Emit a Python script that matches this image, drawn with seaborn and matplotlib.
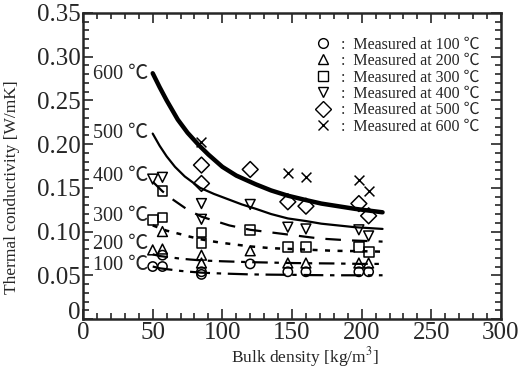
import numpy as np
import pandas as pd
import seaborn as sns
import matplotlib.pyplot as plt
from matplotlib.ticker import MultipleLocator
from matplotlib.lines import Line2D

# fitted curves
curve_x = {
    600: [50, 55, 60, 68, 75, 83, 90, 100, 110, 124, 135, 147, 160, 171, 183, 195, 205, 215],
    500: [50, 55, 60, 66, 73, 84, 94, 104, 114, 124, 135, 147, 160, 171, 183, 195, 205, 215],
    400: [50, 57, 65, 75, 85, 95, 105, 120, 135, 150, 170, 190, 215],
    300: [50, 55, 60, 65, 70, 77, 85, 92, 100, 110, 120, 135, 150, 165, 180, 200, 215],
    200: [50, 55, 60, 65, 70, 77, 85, 92, 100, 110, 120, 135, 150, 165, 180, 200, 215],
    100: [50, 55, 60, 65, 70, 77, 85, 92, 100, 110, 120, 135, 150, 165, 180, 200, 215],
}
curve_y = {
    600: [0.281, 0.265, 0.250, 0.228, 0.213, 0.199, 0.188, 0.174, 0.164, 0.154, 0.147,
          0.141, 0.136, 0.132, 0.129, 0.126, 0.124, 0.122],
    500: [0.212, 0.198, 0.186, 0.174, 0.163, 0.150, 0.143, 0.137, 0.131, 0.126, 0.120,
          0.115, 0.112, 0.109, 0.107, 0.105, 0.104, 0.103],
    400: [0.157, 0.146, 0.136, 0.125, 0.117, 0.112, 0.107, 0.102, 0.099, 0.096, 0.092,
          0.090, 0.0885],
    300: [0.107, 0.104, 0.101, 0.099, 0.097, 0.094, 0.091, 0.089, 0.087, 0.085, 0.083,
          0.081, 0.080, 0.079, 0.078, 0.0775, 0.077],
    200: [0.074, 0.072, 0.071, 0.070, 0.069, 0.068, 0.067, 0.0665, 0.066, 0.0655, 0.065,
          0.0645, 0.064, 0.0637, 0.0635, 0.063, 0.063],
    100: [0.060, 0.058, 0.057, 0.056, 0.055, 0.054, 0.053, 0.0525, 0.052, 0.0515, 0.051,
          0.0507, 0.0505, 0.0502, 0.050, 0.050, 0.050],
}

# measured points
meas_x = {
    100: [50, 57, 57, 85, 85, 120, 147, 160, 198, 205],
    200: [50, 57, 57, 85, 85, 120, 147, 160, 198, 205],
    300: [50, 57, 57, 85, 85, 120, 147, 160, 198, 205],
    400: [50, 57, 85, 85, 120, 147, 160, 198, 205],
    500: [85, 85, 120, 147, 160, 198, 205],
    600: [85, 147, 160, 198, 205],
}
meas_y = {
    100: [0.060, 0.060, 0.073, 0.054, 0.051, 0.063, 0.054, 0.054, 0.054, 0.054],
    200: [0.079, 0.080, 0.100, 0.073, 0.064, 0.078, 0.064, 0.064, 0.064, 0.064],
    300: [0.113, 0.116, 0.146, 0.099, 0.087, 0.102, 0.082, 0.082, 0.082, 0.077],
    400: [0.160, 0.162, 0.132, 0.114, 0.131, 0.105, 0.103, 0.102, 0.095],
    500: [0.176, 0.155, 0.171, 0.134, 0.129, 0.132, 0.118],
    600: [0.202, 0.167, 0.162, 0.159, 0.146],
}
temps = [100, 200, 300, 400, 500, 600]
label_y = {600: 0.280, 500: 0.212, 400: 0.163, 300: 0.117, 200: 0.085, 100: 0.061}

x_ticks = [0, 50, 100, 150, 200, 250, 300]
y_ticks = [0, 0.05, 0.10, 0.15, 0.20, 0.25, 0.30, 0.35]
y_tick_labels = ['0', '0.05', '0.10', '0.15', '0.20', '0.25', '0.30', '0.35']

sns.set_style("ticks")
plt.rcParams['font.family'] = ['Liberation Serif', 'Noto Sans CJK JP']
plt.rcParams['mathtext.fontset'] = 'stix'

curves = pd.concat([pd.DataFrame({'x': curve_x[t], 'y': curve_y[t], 'T': t}) for t in temps])
points = pd.concat([pd.DataFrame({'x': meas_x[t], 'y': meas_y[t], 'T': t}) for t in temps])

fig = plt.figure(figsize=(5.29, 3.69), dpi=100)
ax = fig.add_axes([0.157, 0.1355, 0.79, 0.8295])

line_styles = {
    600: dict(lw=3.2, ls='-'),
    500: dict(lw=1.6, ls='-'),
    400: dict(lw=1.6, ls=(0, (7, 5))),
    300: dict(lw=1.8, ls=(0, (2, 3))),
    200: dict(lw=1.6, ls=(0, (7, 3, 2, 3))),
    100: dict(lw=1.6, ls=(0, (9, 3, 2, 3))),
}
for t in temps:
    sns.lineplot(data=curves[curves['T'] == t], x='x', y='y', color='black',
                 ax=ax, legend=False, **line_styles[t])

markers = {100: 'o', 200: '^', 300: 's', 400: 'v', 500: 'D', 600: 'x'}
sizes = {100: 45, 200: 50, 300: 50, 400: 50, 500: 65, 600: 50}
for t in temps:
    d = points[points['T'] == t]
    if markers[t] == 'x':
        sns.scatterplot(data=d, x='x', y='y', marker='x', color='black', s=sizes[t],
                        linewidth=1.1, ax=ax, legend=False)
    else:
        sns.scatterplot(data=d, x='x', y='y', marker=markers[t], facecolor='none',
                        edgecolor='black', s=sizes[t], linewidth=1.1, ax=ax, legend=False)

for t in temps:
    ax.text(47, label_y[t], f'{t} ℃', fontsize=14.5, ha='right', va='center')

ax.set_xlim(0, 300)
ax.set_ylim(0, 0.35)
ax.set_xticks(x_ticks)
ax.set_yticks(y_ticks)
ax.set_yticklabels(y_tick_labels)
ax.xaxis.set_minor_locator(MultipleLocator(10))
ax.yaxis.set_minor_locator(MultipleLocator(0.01))
ax.tick_params(which='both', direction='in', top=True, right=True, width=1.2)
ax.tick_params(which='major', length=7, labelsize=18, pad=2)
ax.tick_params(which='minor', length=4)
ax.get_yticklabels()[0].set_verticalalignment('baseline')
for s in ax.spines.values():
    s.set_linewidth(1.8)

ax.set_xlabel('Bulk density [kg/m$^3$]', fontsize=12.5)
ax.set_ylabel('Thermal conductivity [W/mK]', fontsize=12.5)
ax.xaxis.set_label_coords(0.53, -0.085)
ax.yaxis.set_label_coords(-0.152, 0.43)

handles = []
for t in temps:
    if markers[t] == 'x':
        h = Line2D([], [], marker='x', ls='none', color='black', markersize=7)
    else:
        h = Line2D([], [], marker=markers[t], ls='none', markerfacecolor='none',
                   markeredgecolor='black', markersize=7 if markers[t] != 'D' else 8)
    handles.append(h)
ax.legend(handles, [f':  Measured at {t} ℃' for t in temps], loc='upper right',
          bbox_to_anchor=(0.975, 0.96), frameon=False, fontsize=11.5,
          handletextpad=0.5, labelspacing=0.03, borderpad=0.2, handlelength=1.2)

fig.savefig('out.png', dpi=100)
